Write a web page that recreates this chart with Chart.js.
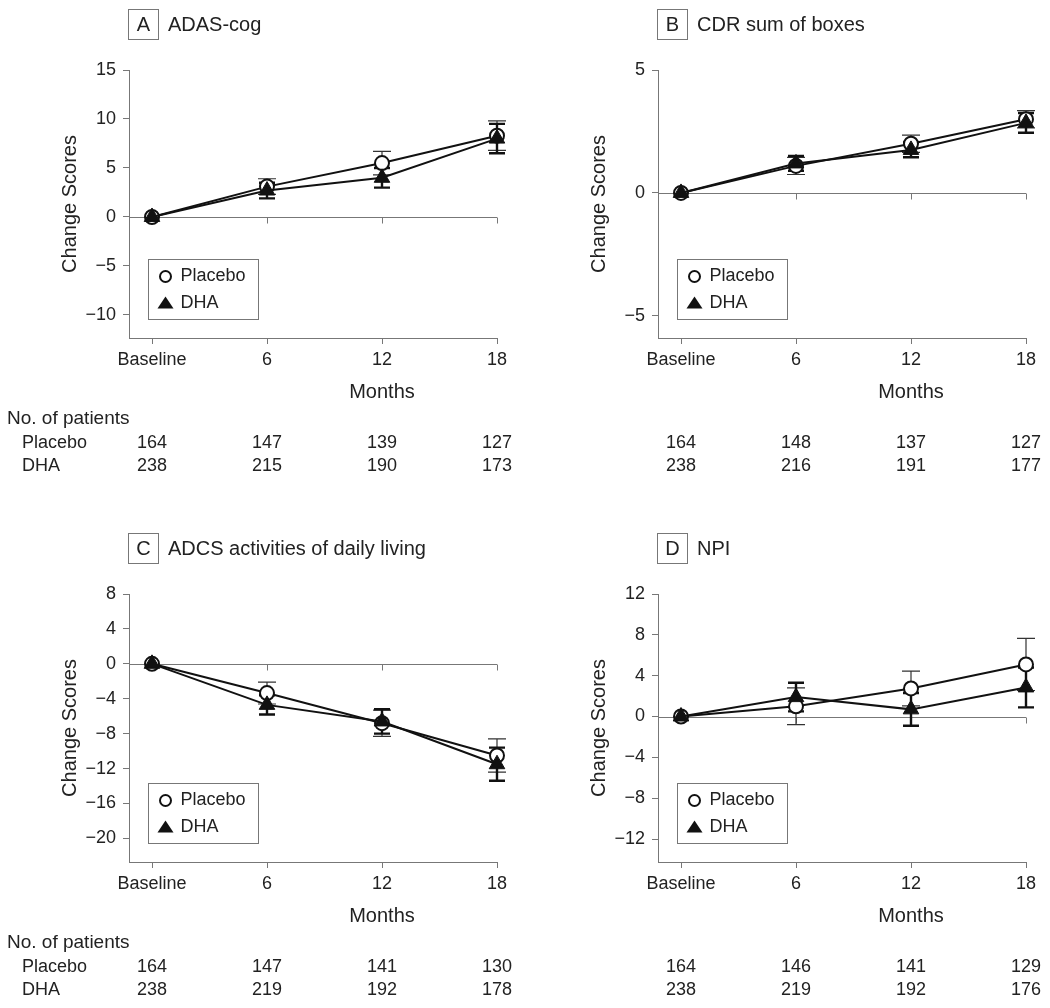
<!DOCTYPE html>
<html>
<head>
<meta charset="utf-8">
<script src="https://cdn.jsdelivr.net/npm/chart.js@4.4.1/dist/chart.umd.min.js"></script>
<style>
  body { margin: 0; background: #fff; width: 1050px; height: 1008px; position: relative; overflow: hidden; }
  .panel { position: absolute; width: 521px; height: 484px; }
</style>
</head>
<body>
<div class="panel" style="left:0;top:0"><canvas id="chartA" width="521" height="484"></canvas></div>
<div class="panel" style="left:529px;top:0"><canvas id="chartB" width="521" height="484"></canvas></div>
<div class="panel" style="left:0;top:524px"><canvas id="chartC" width="521" height="484"></canvas></div>
<div class="panel" style="left:529px;top:524px"><canvas id="chartD" width="521" height="484"></canvas></div>
<script>
// months on the x axis and their labels
const months = [0, 6, 12, 18];
const monthLabels = ['Baseline', '6', '12', '18'];

// A - ADAS-cog
const adasPlacebo = [0, 3.1, 5.5, 8.3];
const adasPlaceboErr = [0, 0.8, 1.2, 1.5];
const adasDha = [0, 2.7, 4.0, 8.0];
const adasDhaErr = [0, 0.8, 1.0, 1.5];
const adasTicks = [-10, -5, 0, 5, 10, 15];
const adasPatientsPlacebo = [164, 147, 139, 127];
const adasPatientsDha = [238, 215, 190, 173];

// B - CDR sum of boxes
const cdrPlacebo = [0, 1.1, 2.0, 3.0];
const cdrPlaceboErr = [0, 0.35, 0.35, 0.35];
const cdrDha = [0, 1.2, 1.75, 2.85];
const cdrDhaErr = [0, 0.3, 0.3, 0.4];
const cdrTicks = [-5, 0, 5];
const cdrPatientsPlacebo = [164, 148, 137, 127];
const cdrPatientsDha = [238, 216, 191, 177];

// C - ADCS activities of daily living
const adcsPlacebo = [0, -3.35, -6.8, -10.5];
const adcsPlaceboErr = [0, 1.25, 1.5, 1.9];
const adcsDha = [0, -4.7, -6.6, -11.5];
const adcsDhaErr = [0, 1.1, 1.4, 1.9];
const adcsTicks = [-20, -16, -12, -8, -4, 0, 4, 8];
const adcsPatientsPlacebo = [164, 147, 141, 130];
const adcsPatientsDha = [238, 219, 192, 178];

// D - NPI
const npiPlacebo = [0, 1.0, 2.75, 5.1];
const npiPlaceboErr = [0, 1.8, 1.7, 2.55];
const npiDha = [0, 1.9, 0.7, 2.85];
const npiDhaErr = [0, 1.4, 1.6, 1.95];
const npiTicks = [-12, -8, -4, 0, 4, 8, 12];
const npiPatientsPlacebo = [164, 146, 141, 129];
const npiPatientsDha = [238, 219, 192, 176];

const FONT = '"Liberation Sans", Arial, Helvetica, sans-serif';
const TEXT = '#222';
const AXIS = '#777';
const INK = '#111';

// draws zero line, error bars, panel title, legend, "Months" and patient table
const extras = {
  id: 'extras',
  beforeDatasetsDraw(chart) {
    const { ctx, chartArea } = chart;
    const x = chart.scales.x, y = chart.scales.y;
    ctx.save();
    // zero reference line with tick marks
    const y0 = Math.round(y.getPixelForValue(0)) + 0.5;
    ctx.strokeStyle = AXIS;
    ctx.lineWidth = 1;
    ctx.beginPath();
    ctx.moveTo(chartArea.left, y0);
    ctx.lineTo(chartArea.right, y0);
    months.forEach(m => {
      const px = Math.round(x.getPixelForValue(m)) + 0.5;
      ctx.moveTo(px, y0);
      ctx.lineTo(px, y0 + 6);
    });
    ctx.stroke();
    // error bars (mean +/- SE)
    chart.data.datasets.forEach(ds => {
      ctx.strokeStyle = ds.errColor;
      ctx.lineWidth = ds.errWidth;
      ds.err.forEach((e, i) => {
        if (!e) return;
        const px = x.getPixelForValue(months[i]);
        const v = ds.data[i].y;
        const top = y.getPixelForValue(v + e);
        const bot = y.getPixelForValue(v - e);
        ctx.beginPath();
        ctx.moveTo(px, top);
        ctx.lineTo(px, bot);
        ctx.moveTo(px - ds.capHalf, top);
        ctx.lineTo(px + ds.capHalf, top);
        ctx.moveTo(px - ds.capHalf, bot);
        ctx.lineTo(px + ds.capHalf, bot);
        ctx.stroke();
      });
    });
    ctx.restore();
  },
  afterDraw(chart, args, opts) {
    const { ctx, chartArea } = chart;
    const x = chart.scales.x;
    ctx.save();
    ctx.fillStyle = TEXT;

    // panel letter box and title
    ctx.strokeStyle = AXIS;
    ctx.lineWidth = 1;
    const bx = chartArea.left - 0.5;
    ctx.strokeRect(bx, 9.5, 30, 30);
    ctx.font = '20px ' + FONT;
    ctx.textAlign = 'center';
    ctx.textBaseline = 'middle';
    ctx.fillText(opts.letter, bx + 15, 25.5);
    ctx.textAlign = 'left';
    ctx.fillText(opts.title, chartArea.left + 39, 25.5);

    // legend box
    const lx = chartArea.left + 19.5, ly = 259.5;
    ctx.strokeRect(lx, ly, 110, 60);
    ctx.lineWidth = 2;
    ctx.strokeStyle = INK;
    ctx.fillStyle = '#fff';
    ctx.beginPath();
    ctx.arc(lx + 17, ly + 17, 5.5, 0, Math.PI * 2);
    ctx.fill();
    ctx.stroke();
    ctx.fillStyle = INK;
    ctx.beginPath();
    ctx.moveTo(lx + 17, ly + 37);
    ctx.lineTo(lx + 25, ly + 49);
    ctx.lineTo(lx + 9, ly + 49);
    ctx.closePath();
    ctx.fill();
    ctx.fillStyle = TEXT;
    ctx.font = '18px ' + FONT;
    ctx.textBaseline = 'middle';
    ctx.fillText('Placebo', lx + 32, ly + 17);
    ctx.fillText('DHA', lx + 32, ly + 44);

    // x axis title
    ctx.font = '20px ' + FONT;
    ctx.textAlign = 'center';
    ctx.textBaseline = 'alphabetic';
    ctx.fillText('Months', x.getPixelForValue(12), 398);

    // number of patients table
    ctx.font = '18px ' + FONT;
    if (opts.rowLabels) {
      ctx.textAlign = 'left';
      ctx.font = '19px ' + FONT;
      ctx.fillText('No. of patients', 7, 424);
      ctx.font = '18px ' + FONT;
      ctx.fillText('Placebo', 22, 448);
      ctx.fillText('DHA', 22, 471);
    }
    ctx.textAlign = 'center';
    months.forEach((m, i) => {
      const px = x.getPixelForValue(m);
      ctx.fillText(String(opts.placeboN[i]), px, 448);
      ctx.fillText(String(opts.dhaN[i]), px, 471);
    });
    ctx.restore();
  }
};

function makeChart(id, p) {
  const toPoints = vals => months.map((m, i) => ({ x: m, y: vals[i] }));
  return new Chart(document.getElementById(id), {
    type: 'line',
    data: {
      datasets: [
        {
          label: 'Placebo',
          data: toPoints(p.placebo),
          err: p.placeboErr,
          errColor: '#333',
          errWidth: 1.2,
          capHalf: 9,
          order: 1,
          clip: false,
          borderColor: INK,
          borderWidth: 2,
          pointStyle: 'circle',
          pointRadius: 7,
          pointBorderWidth: 2,
          pointBackgroundColor: '#fff',
          pointBorderColor: INK
        },
        {
          label: 'DHA',
          data: toPoints(p.dha),
          err: p.dhaErr,
          errColor: INK,
          errWidth: 2.4,
          capHalf: 8,
          order: 0,
          clip: false,
          borderColor: INK,
          borderWidth: 2,
          pointStyle: 'triangle',
          pointRadius: 9,
          pointBorderWidth: 1,
          pointBackgroundColor: INK,
          pointBorderColor: INK
        }
      ]
    },
    options: {
      responsive: false,
      animation: false,
      layout: { padding: { top: 70, right: 24, bottom: 0, left: 0 } },
      plugins: {
        legend: { display: false },
        tooltip: { enabled: false },
        extras: {
          letter: p.letter,
          title: p.title,
          rowLabels: p.rowLabels,
          placeboN: p.placeboN,
          dhaN: p.dhaN
        }
      },
      elements: { line: { tension: 0 } },
      scales: {
        x: {
          type: 'linear',
          min: -1.2,
          max: 18,
          afterBuildTicks: s => { s.ticks = months.map(v => ({ value: v })); },
          afterFit: s => { s.height = 146; },
          grid: { drawOnChartArea: false, drawTicks: true, tickLength: 6, color: AXIS },
          border: { display: true, color: AXIS, width: 1 },
          ticks: {
            padding: 5,
            color: TEXT,
            font: { family: FONT, size: 18 },
            maxRotation: 0,
            callback: v => monthLabels[months.indexOf(v)]
          }
        },
        y: {
          min: p.yMin,
          max: p.yMax,
          afterBuildTicks: s => { s.ticks = p.yTicks.map(v => ({ value: v })); },
          afterFit: s => { s.width = 129; },
          grid: { drawOnChartArea: false, drawTicks: true, tickLength: 6, color: AXIS },
          border: { display: true, color: AXIS, width: 1 },
          ticks: {
            padding: 7,
            color: TEXT,
            font: { family: FONT, size: 18 },
            callback: v => String(v).replace('-', '\u2212')
          },
          title: {
            display: true,
            text: 'Change Scores',
            color: TEXT,
            font: { family: FONT, size: 20 },
            padding: { top: 58, bottom: 0 }
          }
        }
      }
    },
    plugins: [extras]
  });
}

makeChart('chartA', {
  letter: 'A', title: 'ADAS-cog', rowLabels: true,
  placebo: adasPlacebo, placeboErr: adasPlaceboErr, dha: adasDha, dhaErr: adasDhaErr,
  yTicks: adasTicks, yMin: -12.35, yMax: 15,
  placeboN: adasPatientsPlacebo, dhaN: adasPatientsDha
});
makeChart('chartB', {
  letter: 'B', title: 'CDR sum of boxes', rowLabels: false,
  placebo: cdrPlacebo, placeboErr: cdrPlaceboErr, dha: cdrDha, dhaErr: cdrDhaErr,
  yTicks: cdrTicks, yMin: -5.9, yMax: 5,
  placeboN: cdrPatientsPlacebo, dhaN: cdrPatientsDha
});
makeChart('chartC', {
  letter: 'C', title: 'ADCS activities of daily living', rowLabels: true,
  placebo: adcsPlacebo, placeboErr: adcsPlaceboErr, dha: adcsDha, dhaErr: adcsDhaErr,
  yTicks: adcsTicks, yMin: -22.7, yMax: 8,
  placeboN: adcsPatientsPlacebo, dhaN: adcsPatientsDha
});
makeChart('chartD', {
  letter: 'D', title: 'NPI', rowLabels: false,
  placebo: npiPlacebo, placeboErr: npiPlaceboErr, dha: npiDha, dhaErr: npiDhaErr,
  yTicks: npiTicks, yMin: -14.25, yMax: 12,
  placeboN: npiPatientsPlacebo, dhaN: npiPatientsDha
});
</script>
</body>
</html>
